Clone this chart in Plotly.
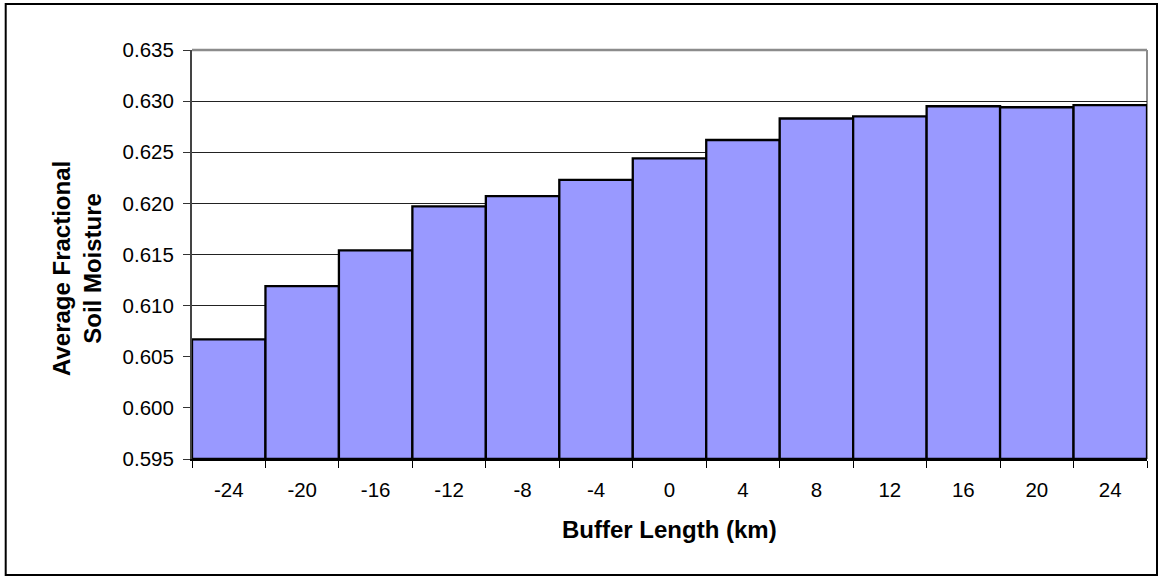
import plotly.graph_objects as go

# Data
buffer_km = ["-24", "-20", "-16", "-12", "-8", "-4", "0", "4", "8", "12", "16", "20", "24"]
soil_moisture = [0.6067, 0.6119, 0.6154, 0.6197, 0.6207, 0.6223, 0.6244,
                 0.6262, 0.6283, 0.6285, 0.6295, 0.6294, 0.6296]
y_ticks = [0.595, 0.600, 0.605, 0.610, 0.615, 0.620, 0.625, 0.630, 0.635]
y_min, y_max = 0.595, 0.635

FONT = "Arial, Liberation Sans, sans-serif"

# plot area in pixels
L, R, T, B = 192, 1147, 50, 459
W, H = 1159, 579
PW, PH = R - L, B - T


def px(x):
    return (x - L) / PW


def py(y):
    return (B - y) / PH


fig = go.Figure()
fig.add_trace(go.Bar(
    x=buffer_km,
    y=[v - y_min for v in soil_moisture],
    base=y_min,
    marker=dict(color="#9999FF", line=dict(color="black", width=2.3)),
    hoverinfo="skip",
))

fig.update_layout(
    width=W, height=H,
    margin=dict(l=L, r=W - R, t=T, b=H - B, pad=0),
    paper_bgcolor="white", plot_bgcolor="white",
    bargap=0, showlegend=False,
    font=dict(family=FONT, size=20.5, color="black"),
)
fig.update_xaxes(
    type="category", tickson="boundaries",
    ticks="outside", ticklen=7, tickcolor="black", tickwidth=1,
    showline=True, linecolor="black", linewidth=2,
    showgrid=False, tickfont=dict(size=20.5),
    ticklabelstandoff=11,
)
fig.update_yaxes(
    range=[y_min, y_max], tickvals=y_ticks, tickformat=".3f",
    ticks="outside", ticklen=7, tickcolor="#333", tickwidth=1,
    showline=True, linecolor="#444", linewidth=2,
    showgrid=True, gridcolor="#222", gridwidth=1,
    zeroline=False, tickfont=dict(size=20.5), ticklabelstandoff=5,
)
# plot-area border (gray top/right)
fig.add_shape(type="line", xref="paper", yref="paper", x0=0, x1=1, y0=1, y1=1,
              line=dict(color="#8c8c8c", width=2.5), layer="below")
fig.add_shape(type="line", xref="paper", yref="paper", x0=1, x1=1, y0=0, y1=1,
              line=dict(color="#8c8c8c", width=2), layer="below")
# outer chart border
fig.add_shape(type="rect", xref="paper", yref="paper",
              x0=px(5.7), x1=px(1157), y0=py(575), y1=py(4),
              line=dict(color="black", width=2), layer="below")

fig.add_annotation(text="<b>Average Fractional<br>Soil Moisture</b>",
                   xref="paper", yref="paper", x=px(77), y=py(269),
                   textangle=-90, showarrow=False, font=dict(size=24),
                   xanchor="center", yanchor="middle")
fig.add_annotation(text="<b>Buffer Length (km)</b>",
                   xref="paper", yref="paper", x=0.5, y=py(529),
                   showarrow=False, font=dict(size=24),
                   xanchor="center", yanchor="middle")

fig.write_html("out.html",
               config={"displayModeBar": False, "staticPlot": True},
               post_script="document.body.style.margin='0';document.body.style.padding='0';")
